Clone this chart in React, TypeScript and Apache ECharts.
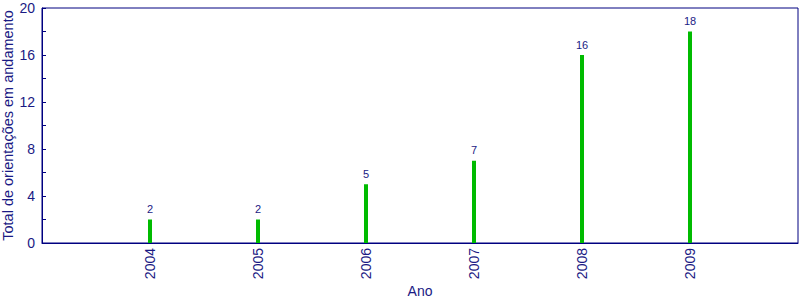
import React, { useEffect, useRef } from "react";
import * as echarts from "echarts";

const years = ["2004", "2005", "2006", "2007", "2008", "2009"];
const totals = [2, 2, 5, 7, 16, 18];
const yTicks = { min: 0, max: 20, interval: 4 };
const yName = "Total de orientações em andamento";
const xName = "Ano";

const NAVY = "#000080";
const TEXT = "#1a1a84";
const FONT = "Liberation Sans, Arial, Helvetica, sans-serif";

export default function App() {
  const ref = useRef<HTMLDivElement>(null);
  useEffect(() => {
    if (!ref.current) return;
    const chart = echarts.init(ref.current, null, { renderer: "svg" });
    const cats = ["", ...years, ""];
    const data: any[] = ["-", ...totals, "-"];
    chart.setOption({
      animation: false,
      textStyle: { fontFamily: FONT },
      grid: {
        left: 42,
        top: 8,
        right: 2,
        bottom: 57,
        show: true,
        borderColor: NAVY,
        borderWidth: 1,
        containLabel: false,
        outerBoundsMode: "none",
      },
      xAxis: {
        type: "category",
        data: cats,
        boundaryGap: false,
        name: xName,
        nameLocation: "middle",
        nameGap: 41,
        nameMoveOverlap: false,
        nameTextStyle: { color: TEXT, fontSize: 14, fontFamily: FONT },
        axisLine: { lineStyle: { color: NAVY, width: 1 } },
        axisTick: { show: false },
        axisLabel: {
          rotate: 90,
          color: TEXT,
          fontSize: 14,
          margin: 5,
          fontFamily: FONT,
          interval: 0,
        },
        splitLine: { show: false },
      },
      yAxis: {
        type: "value",
        min: yTicks.min,
        max: yTicks.max,
        interval: yTicks.interval,
        name: yName,
        nameLocation: "middle",
        nameRotate: 90,
        nameGap: 27,
        nameMoveOverlap: false,
        nameTextStyle: { color: TEXT, fontSize: 14.5, fontFamily: FONT },
        axisLine: { show: true, lineStyle: { color: NAVY, width: 1 } },
        axisTick: { show: true, inside: true, length: 4, lineStyle: { color: NAVY } },
        minorTick: { show: true, splitNumber: 2, length: 4, lineStyle: { color: NAVY } },
        axisLabel: { color: TEXT, fontSize: 14, margin: 7, fontFamily: FONT },
        splitLine: { show: false },
        minorSplitLine: { show: false },
      },
      series: [
        {
          type: "bar",
          data,
          barWidth: 4,
          itemStyle: { color: "#00bb00" },
          label: {
            show: true,
            position: "top",
            distance: 5,
            color: TEXT,
            fontSize: 11,
            fontFamily: FONT,
          },
        },
      ],
    });
    return () => chart.dispose();
  }, []);
  return <div ref={ref} style={{ width: 800, height: 300, position: "absolute", left: 0, top: 0 }} />;
}
